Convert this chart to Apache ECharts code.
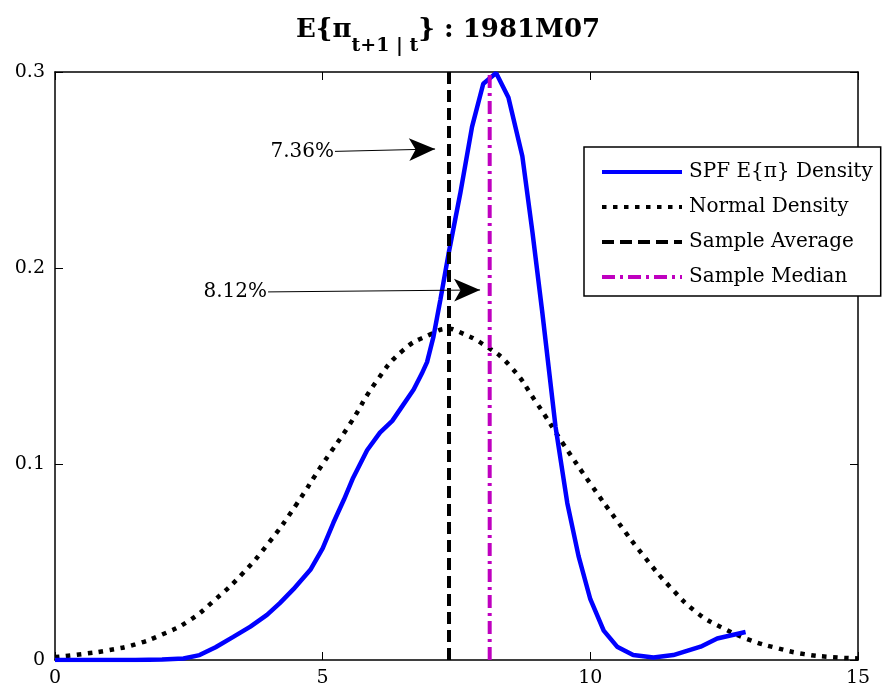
<!DOCTYPE html>
<html><head><meta charset="utf-8">
<script src="https://cdn.jsdelivr.net/npm/echarts@6/dist/echarts.min.js"></script>
<style>html,body{margin:0;padding:0;background:#fff}#c{width:896px;height:696px}</style>
</head><body><div id="c"></div>
<script>
// ---- data ----
const spfX = [0,0.5,1,1.5,2,2.4,2.7,3.0,3.33,3.65,3.96,4.2,4.45,4.77,5.0,5.2,5.4,5.57,5.83,6.07,6.3,6.45,6.7,6.85,6.95,7.07,7.2,7.35,7.57,7.79,8.0,8.24,8.47,8.73,8.92,9.1,9.35,9.57,9.78,10.0,10.25,10.5,10.8,11.18,11.55,12.06,12.37,12.9];
const spfY = [0,0,0,0,0.0002,0.0008,0.0025,0.0065,0.0118,0.017,0.023,0.029,0.036,0.046,0.057,0.070,0.082,0.093,0.107,0.116,0.122,0.128,0.138,0.146,0.152,0.165,0.184,0.207,0.238,0.272,0.294,0.2995,0.287,0.257,0.218,0.178,0.119,0.080,0.053,0.031,0.015,0.0068,0.0025,0.0013,0.0025,0.0068,0.011,0.0143];
const normX = [0,0.5,1,1.5,2,2.5,3,3.5,4,4.5,5,5.5,6,6.5,7,7.36,7.5,8,8.5,9,9.5,10,10.5,11,11.5,12,12.5,13,13.5,14,14.5,15];
const normY = [0.0015,0.003,0.005,0.008,0.013,0.020,0.031,0.044,0.060,0.079,0.100,0.120,0.142,0.158,0.166,0.169,0.168,0.161,0.150,0.131,0.110,0.090,0.071,0.053,0.037,0.024,0.016,0.010,0.006,0.003,0.0015,0.0008];
const sampleAverage = 7.36;
const sampleMedian = 8.12;
const vLineY = [0, 0.3];
const seriesNames = ['SPF E{π} Density','Normal Density','Sample Average','Sample Median'];
const xRange = [0, 15], xStep = 5;
const yRange = [0, 0.3], yStep = 0.1;
const annAvg = {text:'7.36%', from:[5.23,0.2595], to:[7.10,0.2607]};
const annMed = {text:'8.12%', from:[3.98,0.1878], to:[7.94,0.1888]};
const titleMain1 = 'E{π', titleSub = 't+1 | t', titleMain2 = '} : 1981M07';

const zip = (a,b) => a.map((v,i)=>[v,b[i]]);
const FONT = 'DejaVu Serif';
const axisCommon = (pos, showLabel, isY) => ({
  type:'value', position:pos,
  min: isY? yRange[0]:xRange[0], max: isY? yRange[1]:xRange[1], interval: isY? yStep:xStep,
  axisLine:{show:true, onZero:false, lineStyle:{color:'#000', width:1.5}},
  axisTick:{show:true, inside:true, length:8, lineStyle:{color:'#000', width:1}},
  axisLabel:{show:showLabel, color:'#000', fontFamily:FONT, fontSize:19, margin: isY?10:9,
    formatter: v => isY ? (Math.abs(v)<1e-9 ? '0' : (+v).toFixed(1)) : String(Math.round(v))},
  splitLine:{show:false}
});
const annSeries = (a) => ({
  type:'line', data:[], silent:true, symbol:'none',
  markLine:{ silent:true, animation:false, symbol:['none','arrow'], symbolSize:[17,26],
    lineStyle:{color:'#000', width:1, type:'solid'},
    label:{show:true, position:'start', formatter:a.text, color:'#000', fontFamily:FONT, fontSize:20, distance:1},
    data:[[{coord:a.from},{coord:a.to}]] }
});
const chart = echarts.init(document.getElementById('c'), null, {renderer:'canvas'});
chart.setOption({
  animation:false,
  backgroundColor:'#fff',
  title:{ text: titleMain1 + '{s|' + titleSub + '}' + titleMain2, left:'center', top:0,
    textStyle:{color:'#000', fontFamily:FONT, fontSize:26, fontWeight:'bold',
      rich:{ s:{color:'#000', fontFamily:FONT, fontSize:19, fontWeight:'bold', padding:[32,0,0,0]} } } },
  grid:{left:55, right:38, top:72, bottom:36, containLabel:false},
  xAxis:[axisCommon('bottom', true, false), axisCommon('top', false, false)],
  yAxis:[axisCommon('left', true, true), axisCommon('right', false, true)],
  legend:{ orient:'vertical', left:584, top:147, itemWidth:80, itemHeight:20, itemGap:15,
    padding:[15,8,9,16], borderColor:'#000', borderWidth:1.5, backgroundColor:'#fff',
    selectedMode:false, data:seriesNames,
    itemStyle:{opacity:0, borderWidth:0},
    lineStyle:{width:4},
    textStyle:{color:'#000', fontFamily:FONT, fontSize:20, padding:[0,0,0,2]} },
  series:[
    {name:seriesNames[0], type:'line', data:zip(spfX,spfY), symbol:'none', smooth:false,
      lineStyle:{color:'#0000FF', width:4.5}, itemStyle:{color:'#0000FF'}, z:3},
    {name:seriesNames[1], type:'line', data:zip(normX,normY), symbol:'none', smooth:true,
      lineStyle:{color:'#000', width:4.5, type:[4.5,6.5], cap:'butt'}, itemStyle:{color:'#000'}, z:2},
    {name:seriesNames[2], type:'line', data:vLineY.map(y=>[sampleAverage,y]), symbol:'none',
      lineStyle:{color:'#000', width:4, type:[12,6]}, itemStyle:{color:'#000'}, z:4},
    {name:seriesNames[3], type:'line', data:vLineY.map(y=>[sampleMedian,y]), symbol:'none',
      lineStyle:{color:'#BF00BF', width:4, type:[13,5,3,5]}, itemStyle:{color:'#BF00BF'}, z:4},
    annSeries(annAvg), annSeries(annMed)
  ]
});
</script></body></html>
